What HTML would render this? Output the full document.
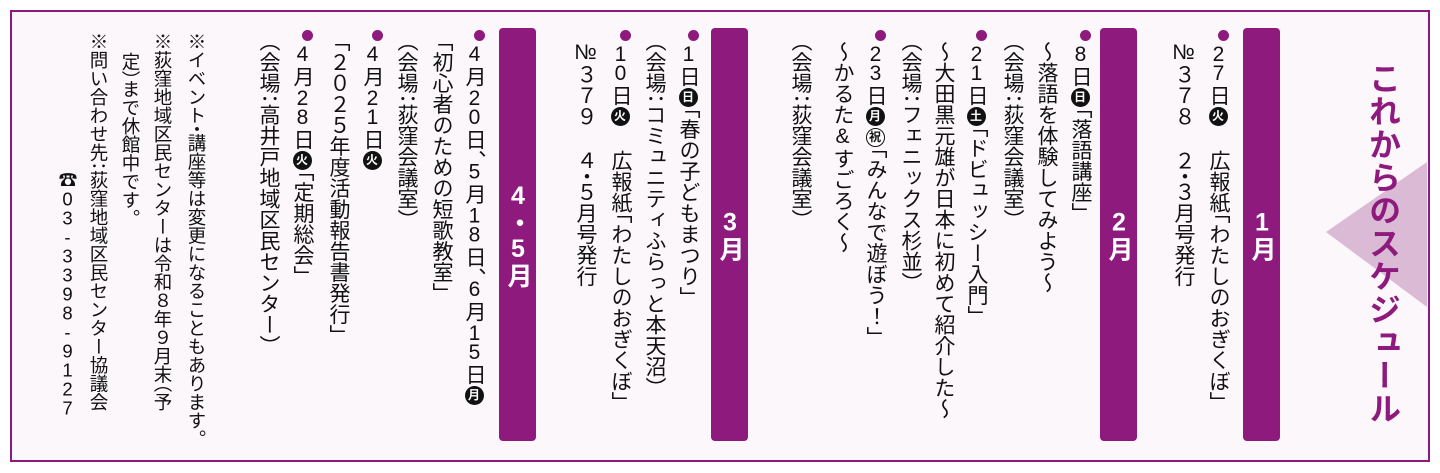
<!DOCTYPE html>
<html><head><meta charset="utf-8">
<style>
html,body{margin:0;padding:0;background:#fff;}
body{width:1440px;height:473px;position:relative;overflow:hidden;font-family:"Liberation Sans","Noto Sans CJK JP",sans-serif;}
.frame{position:absolute;left:10px;top:10px;width:1416px;height:448px;border:2px solid #8e1a7e;background:#fbf7fb;}
.bar{position:absolute;top:28px;height:413px;width:37px;background:#8e1a7e;border-radius:4px;}
.bar span{position:absolute;left:0;width:37px;writing-mode:vertical-rl;text-orientation:upright;color:#fff;font-weight:bold;font-size:25px;line-height:37px;top:50%;transform:translateY(-50%);}
.col{position:absolute;top:36px;width:28px;writing-mode:vertical-rl;text-orientation:upright;font-size:21px;line-height:28px;color:#111;white-space:nowrap;font-feature-settings:"vhal";}
.col.s{font-size:18.5px;}
.n{letter-spacing:-4px;}
.n2{letter-spacing:-2px;}
.dot{display:inline-block;width:11px;height:11px;border-radius:50%;background:#8e1a7e;margin:0 0 2px 0;vertical-align:middle;}
.d{display:inline-block;width:19px;height:19px;border-radius:50%;background:#111;color:#fff;font-size:12px;line-height:19px;text-align:center;writing-mode:horizontal-tb;font-weight:bold;margin:1px 0;font-feature-settings:normal;}
.title{position:absolute;left:1362px;top:62px;width:42px;writing-mode:vertical-rl;text-orientation:upright;font-size:32px;font-weight:bold;color:#8e1a7e;line-height:42px;letter-spacing:1px;}
</style></head><body>
<div class="frame"></div>
<svg style="position:absolute;left:0;top:0" width="1440" height="473"><polygon points="1326,232 1427,162 1427,307" fill="#dbbad6"/></svg>
<div class="title">これからのスケジュール</div>

<div class="bar" style="left:1243px"><span>1月</span></div>
<div class="bar" style="left:1100px"><span>2月</span></div>
<div class="bar" style="left:711px"><span>3月</span></div>
<div class="bar" style="left:499px"><span>4・5月</span></div>

<div class="col" style="left:1204px;top:30px"><span class="dot"></span><span class="n">2</span>7日<span class="d">火</span> 広報紙「わたしのおぎくぼ」</div>
<div class="col" style="left:1169px;top:41px">№３７８ ２・３月号発行</div>

<div class="col" style="left:1066px;top:30px"><span class="dot"></span>8日<span class="d">日</span>「落語講座」</div>
<div class="col" style="left:1032px;top:41px">～落語を体験してみよう～</div>
<div class="col" style="left:998px;top:41px">（会場：荻窪会議室）</div>
<div class="col" style="left:962px;top:30px"><span class="dot"></span><span class="n">2</span>1日<span class="d">土</span>「ドビュッシー入門」</div>
<div class="col" style="left:929px;top:41px">～大田黒元雄が日本に初めて紹介した～</div>
<div class="col" style="left:896px;top:41px">（会場：フェニックス杉並）</div>
<div class="col" style="left:861px;top:30px"><span class="dot"></span><span class="n">2</span>3日<span class="d">月</span><span class="d" style="background:#fff;color:#111;border:1px solid #111;width:17px;height:17px;line-height:17px">祝</span>「みんなで遊ぼう！」</div>
<div class="col" style="left:828px;top:41px">～かるた&amp;すごろく～</div>
<div class="col" style="left:786px;top:41px">（会場：荻窪会議室）</div>

<div class="col" style="left:674px;top:30px"><span class="dot"></span>1日<span class="d">日</span>「春の子どもまつり」</div>
<div class="col" style="left:640px;top:41px">（会場：コミュニティふらっと本天沼）</div>
<div class="col" style="left:606px;top:30px"><span class="dot"></span><span class="n">1</span>0日<span class="d">火</span> 広報紙「わたしのおぎくぼ」</div>
<div class="col" style="left:571px;top:41px">№３７９ ４・５月号発行</div>

<div class="col" style="left:460px;top:30px"><span class="dot"></span>4月<span class="n">2</span>0日、5月<span class="n">1</span>8日、6月<span class="n">1</span>5日<span class="d">月</span></div>
<div class="col" style="left:427px;top:41px">「初心者のための短歌教室」</div>
<div class="col" style="left:392px;top:41px">（会場：荻窪会議室）</div>
<div class="col" style="left:358px;top:30px"><span class="dot"></span>4月<span class="n">2</span>1日<span class="d">火</span></div>
<div class="col" style="left:324px;top:41px">「２０２５年度活動報告書発行」</div>
<div class="col" style="left:288px;top:30px"><span class="dot"></span>4月<span class="n">2</span>8日<span class="d">火</span>「定期総会」</div>
<div class="col" style="left:254px;top:41px">（会場：高井戸地域区民センター）</div>

<div class="col s" style="left:182px;top:32px">※イベント・講座等は変更になることもあります。</div>
<div class="col s" style="left:148px;top:32px">※荻窪地域区民センターは令和８年９月末（予</div>
<div class="col s" style="left:116px;top:52px">定）まで休館中です。</div>
<div class="col s" style="left:84px;top:32px">※問い合わせ先：荻窪地域区民センター協議会</div>
<div class="col s" style="left:53px;top:170px">☎<span class="n2">03-3398-9127</span></div>
</body></html>
